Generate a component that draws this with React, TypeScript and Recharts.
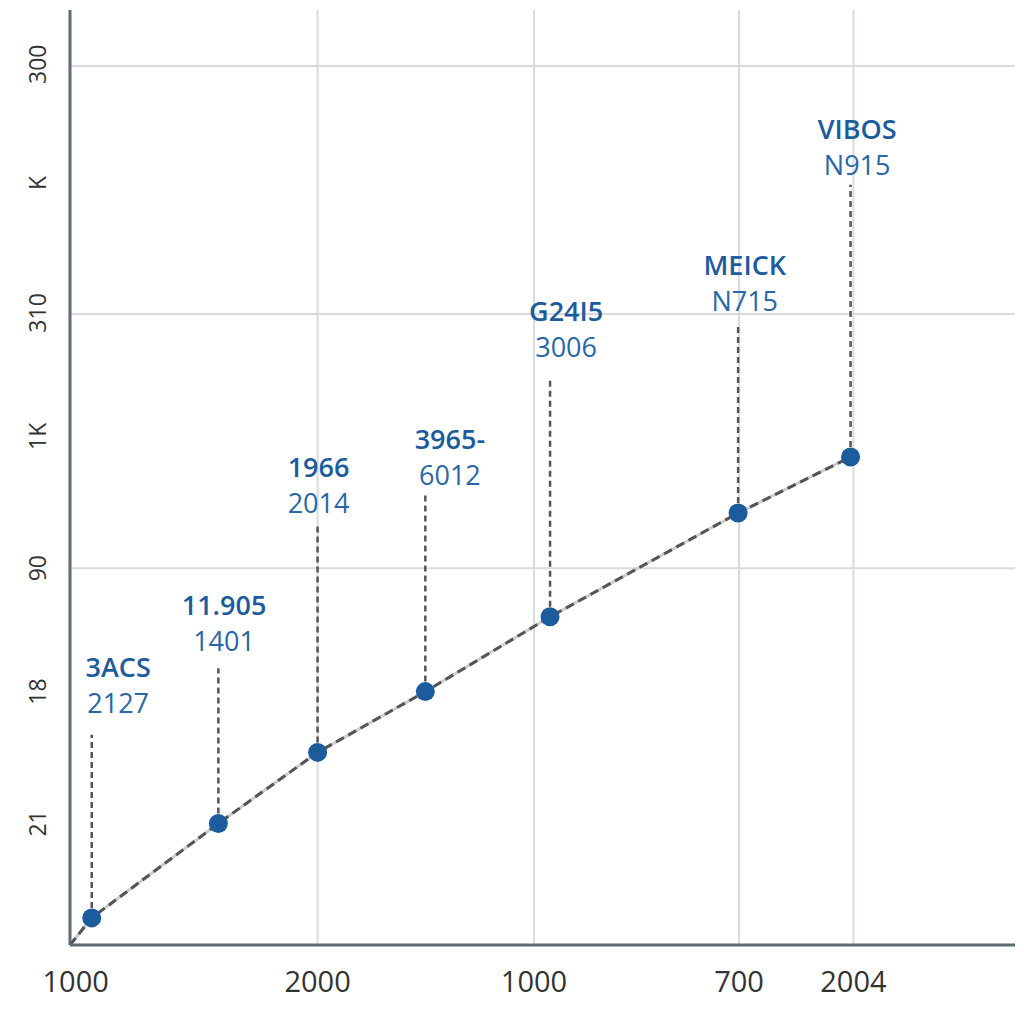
import { LineChart, Line, XAxis, YAxis, ReferenceLine, ReferenceDot } from 'recharts';

// series points (x and y in chart units, first one is the origin the line starts from)
const pointX = [0, 2.3, 15.7, 26.2, 37.6, 50.8, 70.7, 82.6];
const pointY = [0, 2.9, 13.0, 20.6, 27.1, 35.1, 46.2, 52.2];

// callout text for each point
const titles = ['', '3ACS', '11.905', '1966', '3965-', 'G24I5', 'MEICK', 'VIBOS'];
const subtitles = ['', '2127', '1401', '2014', '6012', '3006', 'N715', 'N915'];
const leaderTop = [0, 22.5, 29.6, 44.9, 48.4, 60.6, 66.3, 81.3];
const labelX = [0, 5.1, 16.3, 26.3, 40.2, 52.5, 71.4, 83.3];
const labelY = [0, 27.9, 34.5, 49.2, 52.2, 65.9, 70.9, 85.4];

// axes
const xTicks = [0.6, 26.2, 49.1, 70.8, 82.9];
const xTickLabels = ['1000', '2000', '1000', '700', '2004'];
const yTicks = [13, 27.1, 40.3, 54.4, 67.6, 81.5, 94.2];
const yTickLabels = ['21', '18', '90', '1K', '310', 'K', '300'];
const gridX = [26.2, 49.1, 70.8, 82.9];
const gridY = [40.3, 67.5, 94];

const data = pointX.map((x, i) => ({ x, y: pointY[i] }));

const BLUE = '#1d5c9c';
const FONT = '"Open Sans", "Noto Sans", sans-serif';

function XTick(props: any) {
  const { x, y, payload } = props;
  const i = xTicks.indexOf(payload.value);
  return (
    <text x={x} y={y + 27} textAnchor="middle" dominantBaseline="central" fontSize={29} fontFamily={FONT} fill="#333">
      {xTickLabels[i]}
    </text>
  );
}

function YTick(props: any) {
  const { x, y, payload } = props;
  const i = yTicks.indexOf(payload.value);
  const cx = x - 25;
  return (
    <text
      x={cx}
      y={y}
      textAnchor="middle"
      dominantBaseline="central"
      fontSize={23}
      fontFamily={FONT}
      fill="#333"
      transform={`rotate(-90, ${cx}, ${y})`}
    >
      {yTickLabels[i]}
    </text>
  );
}

function renderDot(props: any) {
  const { cx, cy, index } = props;
  if (index === 0) return <g key={`d${index}`} />;
  return <circle key={`d${index}`} cx={cx} cy={cy} r={9.5} fill={BLUE} />;
}

export default function App() {
  return (
    <div style={{ position: 'absolute', left: 0, top: 0, background: '#fff' }}>
      <LineChart width={1024} height={1024} data={data} margin={{ top: 10, right: 9, left: 0, bottom: 0 }}>
        <XAxis
          type="number"
          dataKey="x"
          domain={[0, 100]}
          ticks={xTicks}
          interval={0}
          tick={<XTick />}
          tickLine={false}
          axisLine={{ stroke: '#5f6b75', strokeWidth: 3 }}
          height={79}
        />
        <YAxis
          type="number"
          domain={[0, 100]}
          ticks={yTicks}
          interval={0}
          tick={<YTick />}
          tickLine={false}
          axisLine={{ stroke: '#5f6b75', strokeWidth: 3 }}
          width={70}
        />
        {gridX.map((v) => (
          <ReferenceLine key={`gx${v}`} x={v} stroke="#d7dbdf" strokeWidth={2} />
        ))}
        {gridY.map((v) => (
          <ReferenceLine key={`gy${v}`} y={v} stroke="#d7dbdf" strokeWidth={2} />
        ))}
        {pointX.map((x, i) =>
          i === 0 ? null : (
            <ReferenceLine
              key={`lead${i}`}
              segment={[
                { x, y: pointY[i] },
                { x, y: leaderTop[i] },
              ]}
              stroke="#555"
              strokeWidth={2.5}
              strokeDasharray="6 4"
            />
          )
        )}
        <Line
          type="linear"
          dataKey="y"
          stroke="#c9cdd1"
          strokeWidth={3}
          dot={false}
          activeDot={false}
          isAnimationActive={false}
        />
        <Line
          type="linear"
          dataKey="y"
          stroke="#555"
          strokeWidth={3}
          strokeDasharray="9 5"
          dot={renderDot}
          activeDot={false}
          isAnimationActive={false}
        />
        {labelX.map((lx, i) =>
          i === 0 ? null : (
            <ReferenceDot
              key={`lab${i}`}
              x={lx}
              y={labelY[i]}
              r={0}
              shape={(p: any) => (
                <g>
                  <text x={p.cx} y={p.cy - 18} textAnchor="middle" dominantBaseline="central" fontSize={27} fontWeight={600} fontFamily={FONT} fill={BLUE}>
                    {titles[i]}
                  </text>
                  <text x={p.cx} y={p.cy + 18} textAnchor="middle" dominantBaseline="central" fontSize={27} fontFamily={FONT} fill="#2868a6">
                    {subtitles[i]}
                  </text>
                </g>
              )}
            />
          )
        )}
      </LineChart>
    </div>
  );
}
